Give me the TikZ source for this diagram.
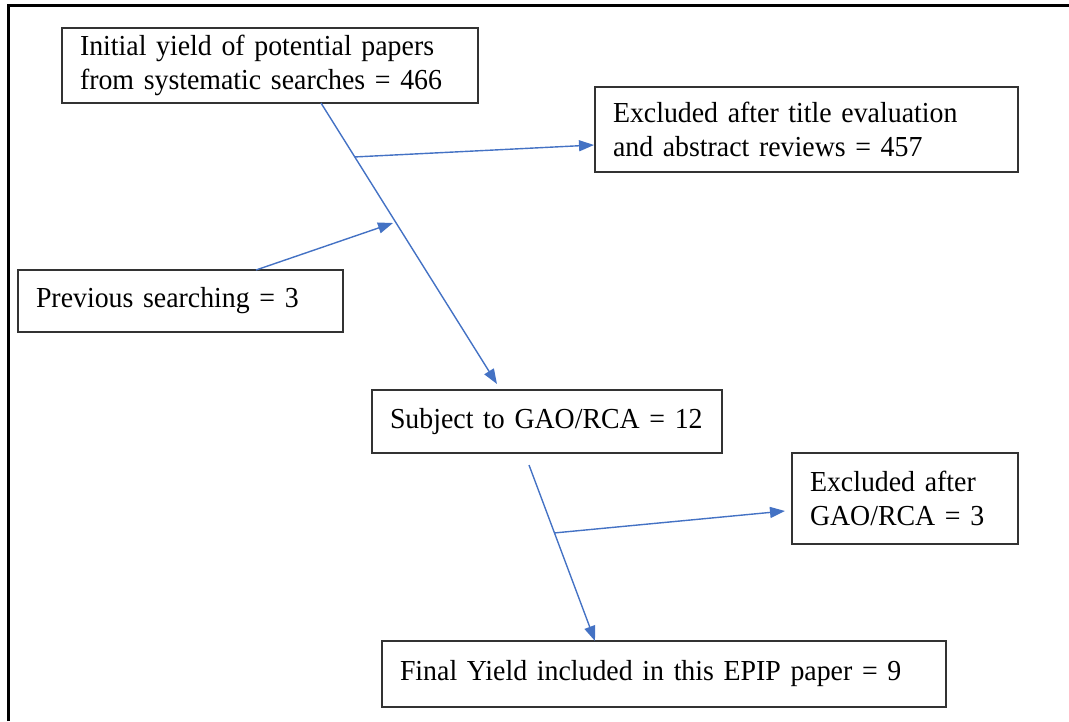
\documentclass[tikz,border=0pt]{standalone}
\usepackage{fontspec}
\setmainfont[FakeStretch=0.96]{Liberation Serif}
\usetikzlibrary{arrows.meta,calc}

\begin{document}
\begin{tikzpicture}[x=1pt,y=-1pt,
  stagebox/.style={draw=black!80, line width=1.9pt, fill=white, anchor=west,
    align=left, inner xsep=18pt, inner ysep=0pt, outer sep=0pt,
    font=\fontsize{29}{33.5}\selectfont},
  flow/.style={draw={rgb,255:red,68;green,114;blue,196}, line width=1.4pt,
    -{Triangle[length=15pt,width=11pt]}}
]
  \useasboundingbox (0,0) rectangle (1069,721);

  % outer frame (top and left edges)
  \draw[line width=3pt, black] (8,721) -- (8,5) -- (1069,5);

  % boxes: left edge, vertical centre, width, height
  \node[stagebox, text width=380pt, minimum height=75pt] (init) at (62,65.5)
    {Initial yield of potential papers\\from systematic searches = 466};
  \node[stagebox, text width=387pt, minimum height=85pt] (exta) at (595,129.5)
    {Excluded after title evaluation\\and abstract reviews = 457};
  \node[stagebox, text width=289pt, minimum height=62pt] (prev) at (18,301)
    {Previous searching = 3};
  \node[stagebox, text width=314pt, minimum height=63pt] (subj) at (372,421.5)
    {\mbox{Subject to GAO/RCA = 12}};
  \node[stagebox, text width=190pt, minimum height=91pt] (extb) at (792,498.5)
    {Excluded after\\GAO/RCA = 3};
  \node[stagebox, text width=528pt, minimum height=66pt] (final) at (382,674)
    {Final Yield included in this EPIP paper = 9};

  % connector end points
  \coordinate (m1s) at (321,103);
  \coordinate (m1e) at (497,384);
  \coordinate (b1s) at ($(m1s)!0.192!(m1e)$);
  \coordinate (b1e) at (594,145);
  \coordinate (p1s) at (256,270);
  \coordinate (p1e) at (393,223);
  \coordinate (m2s) at (529,465);
  \coordinate (m2e) at (595,641);
  \coordinate (b2s) at ($(m2s)!0.386!(m2e)$);
  \coordinate (b2e) at (785,511);

  \draw[flow] (m1s) -- (m1e);
  \draw[flow] (b1s) -- (b1e);
  \draw[flow] (p1s) -- (p1e);
  \draw[flow] (m2s) -- (m2e);
  \draw[flow] (b2s) -- (b2e);
\end{tikzpicture}
\end{document}
